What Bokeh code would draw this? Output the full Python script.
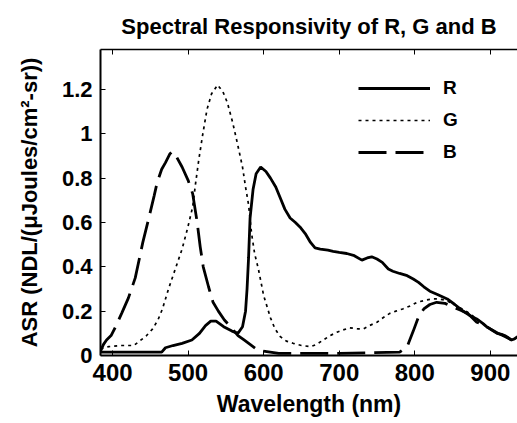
from bokeh.plotting import figure
from bokeh.models import Range1d, LinearAxis, Legend, LegendItem, FixedTicker
from bokeh.embed import file_html
from bokeh.resources import INLINE

# ---- data ----
r_nm = [384, 400, 420, 440, 465, 470, 480, 492, 505, 515, 523, 530, 537, 547, 558, 566, 572, 576, 578,
        580, 582, 586, 590, 596, 603, 609, 616, 622, 628, 635, 642, 648, 655, 662, 668, 675, 685, 692,
        700, 710, 720, 730, 737, 743, 750, 757, 765, 771, 780, 790, 798, 805, 812, 820, 830, 843, 853,
        864, 873, 882, 890, 895, 902, 909, 915, 919, 924, 928, 932, 936]
r_val = [0.015, 0.015, 0.015, 0.015, 0.015, 0.035, 0.045, 0.055, 0.07, 0.10, 0.135, 0.155, 0.155, 0.13,
         0.11, 0.10, 0.13, 0.20, 0.30, 0.44, 0.62, 0.75, 0.82, 0.85, 0.83, 0.80, 0.76, 0.71, 0.66, 0.62,
         0.60, 0.58, 0.55, 0.51, 0.485, 0.48, 0.475, 0.47, 0.465, 0.46, 0.45, 0.43, 0.44, 0.445, 0.435,
         0.42, 0.39, 0.38, 0.37, 0.36, 0.345, 0.33, 0.31, 0.29, 0.275, 0.255, 0.23, 0.20, 0.18, 0.165,
         0.145, 0.13, 0.115, 0.10, 0.095, 0.09, 0.08, 0.07, 0.075, 0.085]

g_nm = [384, 395, 410, 428, 434, 445, 453, 460, 466, 474, 483, 492, 499, 506, 510, 514, 519, 525, 531,
        539, 546, 552, 559, 565, 572, 576, 580, 584, 588, 593, 600, 609, 615, 622, 630, 639, 650, 662,
        670, 679, 688, 697, 705, 714, 725, 732, 740, 750, 758, 767, 775, 784, 795, 803, 815, 824, 832,
        840, 850, 860, 870, 880, 890, 900, 910, 920, 928, 936]
g_val = [0.03, 0.04, 0.045, 0.045, 0.06, 0.09, 0.12, 0.16, 0.21, 0.30, 0.39, 0.48, 0.57, 0.67, 0.78,
         0.88, 0.99, 1.11, 1.18, 1.22, 1.19, 1.14, 1.05, 0.96, 0.85, 0.76, 0.68, 0.55, 0.46, 0.39, 0.27,
         0.17, 0.12, 0.085, 0.065, 0.055, 0.045, 0.04, 0.05, 0.07, 0.09, 0.105, 0.115, 0.125, 0.12, 0.12,
         0.135, 0.15, 0.17, 0.19, 0.20, 0.21, 0.225, 0.24, 0.25, 0.255, 0.255, 0.25, 0.235, 0.215, 0.195,
         0.17, 0.145, 0.12, 0.10, 0.085, 0.07, 0.08]

b_nm = [384, 388, 392, 398, 404, 412, 421, 430, 440, 448, 455, 459, 465, 470, 476, 479, 484, 492, 500,
        506, 512, 516, 520, 527, 533, 540, 548, 556, 566, 574, 582, 590, 598, 620, 700, 780, 790, 798,
        805, 812, 820, 829, 840, 850, 860, 870, 882, 890, 900, 910, 920, 928, 936]
b_val = [0.02, 0.05, 0.07, 0.09, 0.13, 0.19, 0.26, 0.35, 0.51, 0.62, 0.72, 0.78, 0.84, 0.87, 0.91, 0.92,
         0.90, 0.85, 0.79, 0.73, 0.60, 0.49, 0.40, 0.31, 0.24, 0.20, 0.16, 0.13, 0.09, 0.07, 0.05, 0.03,
         0.02, 0.01, 0.01, 0.015, 0.04, 0.11, 0.175, 0.21, 0.23, 0.24, 0.235, 0.22, 0.205, 0.19, 0.15,
         0.14, 0.12, 0.10, 0.085, 0.07, 0.075]

x_ticks = [400, 500, 600, 700, 800, 900]
y_ticks = [0, 0.2, 0.4, 0.6, 0.8, 1.0, 1.2]
y_tick_labels = {0: "0", 0.2: "0.2", 0.4: "0.4", 0.6: "0.6", 0.8: "0.8", 1.0: "1", 1.2: "1.2"}

FONT = "Liberation Sans"

p = figure(width=517, height=419, output_backend="svg", toolbar_location=None,
           x_range=Range1d(384, 936), y_range=Range1d(0, 1.38),
           min_border_left=100, min_border_right=0, min_border_top=0, min_border_bottom=62,
           background_fill_color="white", border_fill_color="white")
p.outline_line_color = None
p.grid.visible = False

p.title.text = "Spectral Responsivity of R, G and B"
p.title.text_font = FONT
p.title.text_font_size = "22px"
p.title.text_font_style = "bold"
p.title.text_color = "black"
p.title.align = "center"
p.title.standoff = 22

for ax in (p.xaxis[0], p.yaxis[0]):
    ax.axis_line_width = 2
    ax.axis_line_color = "black"
    ax.major_tick_in = 5
    ax.major_tick_out = 0
    ax.major_tick_line_color = "black"
    ax.minor_tick_line_color = None
    ax.major_label_text_font = FONT
    ax.major_label_text_font_style = "bold"
    ax.major_label_text_color = "black"
    ax.axis_label_text_font = FONT
    ax.axis_label_text_font_size = "22px"
    ax.axis_label_text_font_style = "bold"
    ax.axis_label_text_color = "black"

p.xaxis[0].major_label_text_font_size = "24px"
p.yaxis[0].major_label_text_font_size = "22px"
p.xaxis[0].axis_label_text_font_size = "23px"
p.xaxis[0].ticker = FixedTicker(ticks=x_ticks)
p.yaxis[0].ticker = FixedTicker(ticks=y_ticks)
p.yaxis[0].major_label_overrides = y_tick_labels
p.xaxis[0].axis_label = "Wavelength (nm)"
p.yaxis[0].axis_label = "ASR (NDL/(\u03bcJoules/cm\u00b2-sr))"
p.xaxis[0].major_label_standoff = 8
p.xaxis[0].axis_label_standoff = 7
p.yaxis[0].major_label_standoff = 8
p.yaxis[0].axis_label_standoff = 17

top = LinearAxis(ticker=FixedTicker(ticks=x_ticks),
                 major_label_overrides={t: "" for t in x_ticks},
                 major_label_text_font_size="2px",
                 major_tick_in=5, major_tick_out=0, minor_tick_line_color=None,
                 axis_line_width=1.5, axis_line_color="black", major_label_standoff=0)
p.add_layout(top, "above")

r = p.line(r_nm, r_val, line_color="black", line_width=2.8)
g = p.line(g_nm, g_val, line_color="black", line_width=1.7, line_dash="3 4")
b = p.line(b_nm, b_val, line_color="black", line_width=2.8, line_dash="28 9")

legend = Legend(items=[LegendItem(label="R", renderers=[r]),
                       LegendItem(label="G", renderers=[g]),
                       LegendItem(label="B", renderers=[b])],
                location=(258, 192), orientation="vertical",
                border_line_color=None, background_fill_alpha=0,
                glyph_width=72, glyph_height=20, label_height=20, label_standoff=13,
                spacing=10, padding=0, margin=0,
                label_text_font=FONT, label_text_font_size="19px", label_text_font_style="bold",
                label_text_color="black")
p.add_layout(legend, "center")

open("out.html", "w").write(file_html(p, INLINE))
